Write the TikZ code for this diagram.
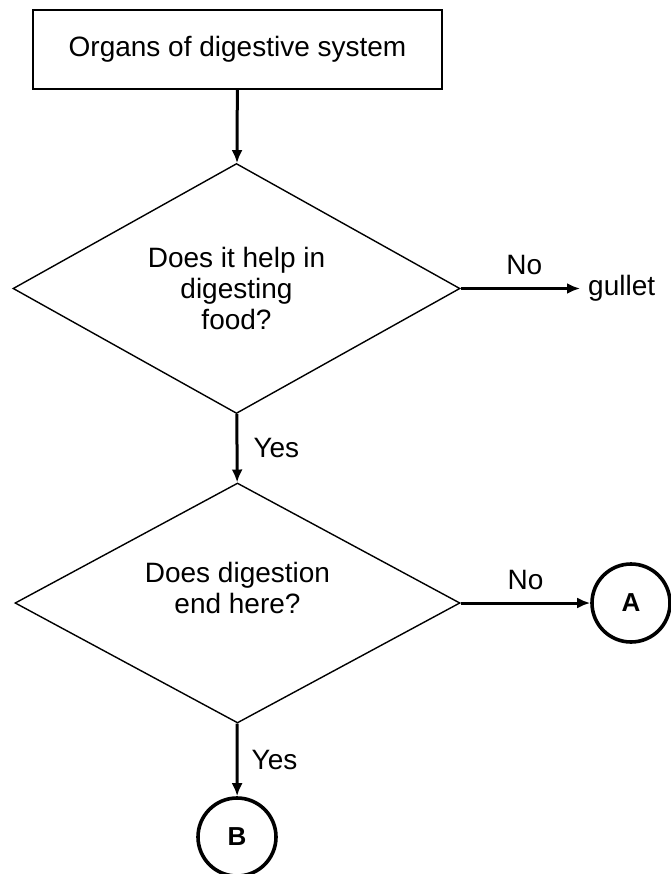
\documentclass[tikz,border=0pt]{standalone}
\usepackage{fontspec}
\setmainfont{Liberation Sans}
\usetikzlibrary{shapes.geometric,arrows.meta}
\begin{document}
\begin{tikzpicture}[x=1pt,y=-1pt,
  box/.style={draw, line width=1.4pt, minimum width=409pt, minimum height=79pt, inner sep=0, font=\fontsize{28}{31}\selectfont},
  dec/.style={draw, diamond, aspect=1.8, inner sep=0, line width=1.4pt, align=center, font=\fontsize{28}{31}\selectfont},
  term/.style={draw, circle, line width=3.6pt, minimum size=78pt, inner sep=0, font=\fontsize{26}{30}\selectfont\bfseries},
  arr/.style={line width=3pt, -{Latex[length=13pt,width=11pt]}},
  lab/.style={font=\fontsize{28}{31}\selectfont, inner sep=0}
]
\useasboundingbox[fill=white] (0,0) rectangle (670,874);

\node[box] (top) at (237.5,49.5) {Organs of digestive system};
\node[dec, minimum width=447pt, minimum height=250pt] (d1) at (236.5,288.5) {Does it help in\\digesting\\food?};
\node[dec, minimum width=445pt, minimum height=240pt] (d2) at (237.5,603) {Does digestion\\end here?\\\mbox{}};
\node[lab, anchor=west] (gullet) at (588,288.5) {gullet};
\node[term] (A) at (631,603) {A};
\node[term] (B) at (237,837) {B};

\draw[arr] (top) -- (d1);
\draw[arr, shorten >=8pt] (d1.east) -- (gullet.west)
  node[lab, midway, above=12pt] (no1) {No};
\draw[arr] (d1) -- (d2)
  node[lab, midway, right=15pt] (yes1) {Yes};
\draw[arr] (d2.east) -- (A)
  node[lab, midway, above=12pt] (no2) {No};
\draw[arr] (d2) -- (B)
  node[lab, midway, right=13pt] (yes2) {Yes};
\end{tikzpicture}
\end{document}
